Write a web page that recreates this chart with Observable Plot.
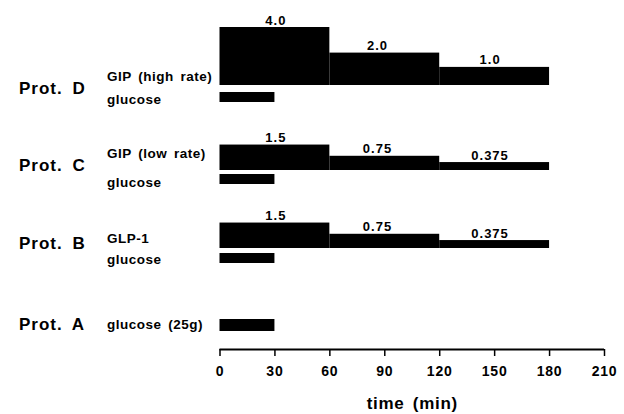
<!DOCTYPE html>
<html><head><meta charset="utf-8">
<script src="https://cdn.jsdelivr.net/npm/d3@7"></script>
<script src="https://cdn.jsdelivr.net/npm/@observablehq/plot@0.6"></script>
<style>
html,body{margin:0;padding:0;background:#fff;}
svg{display:block;}
.prot text{letter-spacing:1px;word-spacing:4px;}
.sub text{letter-spacing:0.5px;word-spacing:2.5px;}
.val text{letter-spacing:1px;}
.ttl text{letter-spacing:0.7px;word-spacing:3px;}
.xax text{letter-spacing:0.8px;}
</style></head><body><div id="chart"></div>
<script>
// ---- data ----
const protocols = ["Prot. D", "Prot. C", "Prot. B", "Prot. A"];
const agents = ["GIP (high rate)", "GIP (low rate)", "GLP-1", ""];
const glucoseLabels = ["glucose", "glucose", "glucose", "glucose (25g)"];
const stepStart = [0, 60, 120];
const stepEnd = [60, 120, 180];
const ratesD = [4.0, 2.0, 1.0];
const ratesC = [1.5, 0.75, 0.375];
const ratesB = [1.5, 0.75, 0.375];
const rateLabelsD = ["4.0", "2.0", "1.0"];
const rateLabelsC = ["1.5", "0.75", "0.375"];
const rateLabelsB = ["1.5", "0.75", "0.375"];
const glucoseStart = 0, glucoseEnd = 30;
const xTicks = [0, 30, 60, 90, 120, 150, 180, 210];

// ---- layout (vertical units above the time axis) ----
const rowBase = [264, 179, 101];
const glucoseTop = [257, 175, 96, 30];
const glucoseBottom = [247, 165, 86, 18];
const protLabelY = [261, 184, 106, 25];
const agentLabelY = [273, 196, 111];
const glucoseLabelY = [250, 167, 90, 25];
const labelShift = [0.5, -4, -2.5]; // minutes
const rateHeight = d3.scalePow().exponent(0.84).domain([0, 4]).range([0, 58]);

const rateSets = [ratesD, ratesC, ratesB];
const rateLabelSets = [rateLabelsD, rateLabelsC, rateLabelsB];
const steps = [];
rateSets.forEach((rates, i) => rates.forEach((r, j) => steps.push({
  x1: stepStart[j], x2: stepEnd[j],
  xm: (stepStart[j] + stepEnd[j]) / 2 + labelShift[j],
  y1: rowBase[i], y2: rowBase[i] + rateHeight(r),
  label: rateLabelSets[i][j]
})));
const glucose = protocols.map((p, i) => ({x1: glucoseStart, x2: glucoseEnd, y1: glucoseBottom[i], y2: glucoseTop[i]}));
const protRows = protocols.map((p, i) => ({text: p, y: protLabelY[i]}));
const agentRows = agents.slice(0, 3).map((a, i) => ({text: a, y: agentLabelY[i]}));
const glucRows = glucoseLabels.map((g, i) => ({text: g, y: glucoseLabelY[i]}));

const font = "'Liberation Sans', Arial, sans-serif";
const chart = Plot.plot({
  width: 624, height: 414,
  marginLeft: 219.5, marginRight: 20, marginTop: 0, marginBottom: 65,
  style: {fontFamily: font, background: "#fff", color: "#000"},
  x: {domain: [0, 210], label: null},
  y: {domain: [0, 349], axis: null},
  marks: [
    Plot.rect(steps, {x1: "x1", x2: "x2", y1: "y1", y2: "y2", fill: "black"}),
    Plot.rect(glucose, {x1: "x1", x2: "x2", y1: "y1", y2: "y2", fill: "black"}),
    Plot.text(steps, {x: "xm", y: "y2", text: "label", lineAnchor: "bottom", dy: -3,
      fontSize: 13, fontWeight: "bold", className: "val"}),
    Plot.text(protRows, {x: () => 0, y: "y", text: "text", textAnchor: "start", dx: -201,
      fontSize: 17, fontWeight: "bold", className: "prot"}),
    Plot.text(agentRows, {x: () => 0, y: "y", text: "text", textAnchor: "start", dx: -113,
      fontSize: 13.5, fontWeight: "bold", className: "sub"}),
    Plot.text(glucRows, {x: () => 0, y: "y", text: "text", textAnchor: "start", dx: -113,
      fontSize: 13.5, fontWeight: "bold", className: "sub"}),
    Plot.ruleY([0], {x1: 0, x2: 210, strokeWidth: 2}),
    Plot.axisX({ticks: xTicks, tickSize: 7, tickPadding: 10, tickFormat: d => String(d), label: null,
      fontSize: 14, fontWeight: "bold", strokeWidth: 1.5, className: "xax"}),
    Plot.text(["time (min)"], {frameAnchor: "bottom", dy: 54, lineAnchor: "middle",
      fontSize: 17, fontWeight: "bold", className: "ttl"})
  ]
});
document.getElementById("chart").appendChild(chart);
</script></body></html>
